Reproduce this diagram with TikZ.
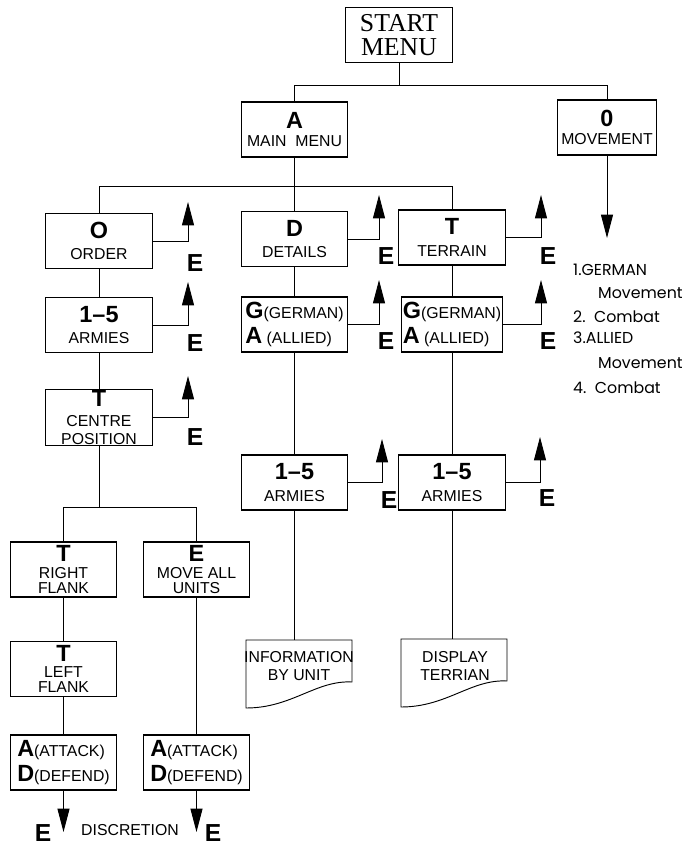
\documentclass[tikz,border=0pt]{standalone}
\usepackage{fontspec}
\setmainfont{Liberation Sans}
\newfontfamily\startfont{Liberation Serif}
\newfontfamily\listfont{Poppins}
\usetikzlibrary{arrows.meta}
\newcommand\keyl[1]{{\fontsize{20}{20}\selectfont\bfseries #1}}

\begin{document}
\begin{tikzpicture}[x=0.03cm,y=-0.03cm,
  menubox/.style={draw,line width=0.9pt,minimum width=3.2cm,minimum height=1.65cm,inner sep=1pt,align=center,font=\fontsize{13.5}{18.5}\selectfont},
  tallbox/.style={menubox,font=\fontsize{13.5}{15}\selectfont},
  sidebox/.style={menubox,align=left},
  link/.style={line width=0.8pt},
  exit/.style={link,-{Triangle[length=0.7cm,width=0.36cm]}},
  exitlabel/.style={font=\fontsize{21}{21}\selectfont\bfseries,inner sep=0pt},
  doctext/.style={align=center,font=\fontsize{13.5}{16}\selectfont,inner sep=0pt},
  listline/.style={anchor=west,inner sep=0pt,font=\listfont\fontsize{13.5}{13.5}\selectfont}]
\useasboundingbox (0,0) rectangle (684,848);

\node[menubox,font=\startfont\fontsize{22}{21}\selectfont] (start) at (399,35) {START\\MENU};
\node[menubox] (mainmenu) at (294.5,129.5) {\keyl{A}\\[-3pt]MAIN\ \ MENU};
\node[menubox,minimum width=2.95cm] (movement) at (607,127.5) {\keyl{0}\\[-3pt]MOVEMENT};

\node[menubox] (order) at (99,241) {\keyl{O}\\ORDER};
\node[menubox] (armiesL) at (99,325) {\keyl{1--5}\\ARMIES};
\node[tallbox] (centre) at (99,417.5) {\keyl{T}\\[2pt]CENTRE\\POSITION};

\node[menubox] (details) at (294.5,239) {\keyl{D}\\DETAILS};
\node[menubox] (terrain) at (452,237.5) {\keyl{T}\\TERRAIN};
\node[sidebox] (sideD) at (294.5,324.5) {\keyl{G}(GERMAN)\\[3pt]\keyl{A} (ALLIED)};
\node[sidebox,minimum width=2.95cm] (sideT) at (452,324.5) {\keyl{G}(GERMAN)\\[3pt]\keyl{A} (ALLIED)};
\node[menubox] (armiesD) at (294.5,482.5) {\keyl{1--5}\\ARMIES};
\node[menubox] (armiesT) at (452,482.5) {\keyl{1--5}\\ARMIES};

\node[tallbox] (rightflank) at (63.5,569.5) {\keyl{T}\\[-1pt]RIGHT\\[-2pt]FLANK};
\node[tallbox] (moveall) at (196.5,569.5) {\keyl{E}\\[-1pt]MOVE ALL\\[-2pt]UNITS};
\node[tallbox] (leftflank) at (63.5,669) {\keyl{T}\\[-1pt]LEFT\\[-2pt]FLANK};
\node[sidebox] (attackL) at (63.5,762.5) {\keyl{A}(ATTACK)\\[3pt]\keyl{D}(DEFEND)};
\node[sidebox] (attackR) at (196.5,762.5) {\keyl{A}(ATTACK)\\[3pt]\keyl{D}(DEFEND)};

\node[doctext] (info) at (299,666) {INFORMATION\\BY UNIT};
\node[doctext] (display) at (455,666) {DISPLAY\\TERRIAN};
\draw[link] (246,640) -- (352,640) -- (352,682) .. controls (316,680) and (292,708) .. (246,708) -- cycle;
\draw[link] (401,639) -- (507,639) -- (507,681) .. controls (471,679) and (447,707) .. (401,707) -- cycle;
\coordinate (infotop) at (294.5,640);
\coordinate (displaytop) at (452,639);

\node[listline] (l1) at (573,270) {1.GERMAN};
\node[listline] (l2) at (598,293) {Movement};
\node[listline] (l3) at (573,317) {2.\ \ Combat};
\node[listline] (l4) at (573,338) {3.ALLIED};
\node[listline] (l5) at (598,363) {Movement};
\node[listline] (l6) at (573,388) {4.\ \ Combat};

\coordinate (bus1) at (399,85);
\coordinate (bus2) at (294.5,186);
\coordinate (bus3) at (99,507);
\draw[link] (start) -- (bus1) -| (mainmenu);
\draw[link] (bus1) -| (movement);
\draw[link] (mainmenu) -- (bus2) -| (order);
\draw[link] (bus2) -- (details);
\draw[link] (bus2) -| (terrain);
\draw[link] (order) -- (armiesL) -- (centre);
\draw[link] (centre) -- (bus3) -| (rightflank);
\draw[link] (bus3) -| (moveall);
\draw[link] (rightflank) -- (leftflank) -- (attackL);
\draw[link] (moveall) -- (attackR);
\draw[link] (details) -- (sideD) -- (armiesD) -- (infotop);
\draw[link] (terrain) -- (sideT) -- (armiesT) -- (displaytop);

\coordinate (movetip) at (607,238);
\draw[exit] (movement) -- (movetip);

\foreach \src/\tx/\ty in {order/188/202,armiesL/188/282,centre/188/376,details/379/195,terrain/541/195,sideD/379/280,sideT/541/280,armiesD/382/439,armiesT/540/437}{
  \coordinate (\src-tip) at (\tx,\ty);
  \draw[exit] (\src.east) -| (\src-tip);
  \node[exitlabel] (\src-E) at ([shift={(7,61)}]\src-tip) {E};
}

\coordinate (tipL) at (63.5,832);
\coordinate (tipR) at (196.5,832);
\draw[exit] (attackL) -- (tipL);
\draw[exit] (attackR) -- (tipR);
\node[exitlabel] (EL) at (43,833) {E};
\node[font=\fontsize{13.5}{13.5}\selectfont] (discretion) at (130,830) {DISCRETION};
\node[exitlabel] (ER) at (213,833) {E};
\end{tikzpicture}
\end{document}
